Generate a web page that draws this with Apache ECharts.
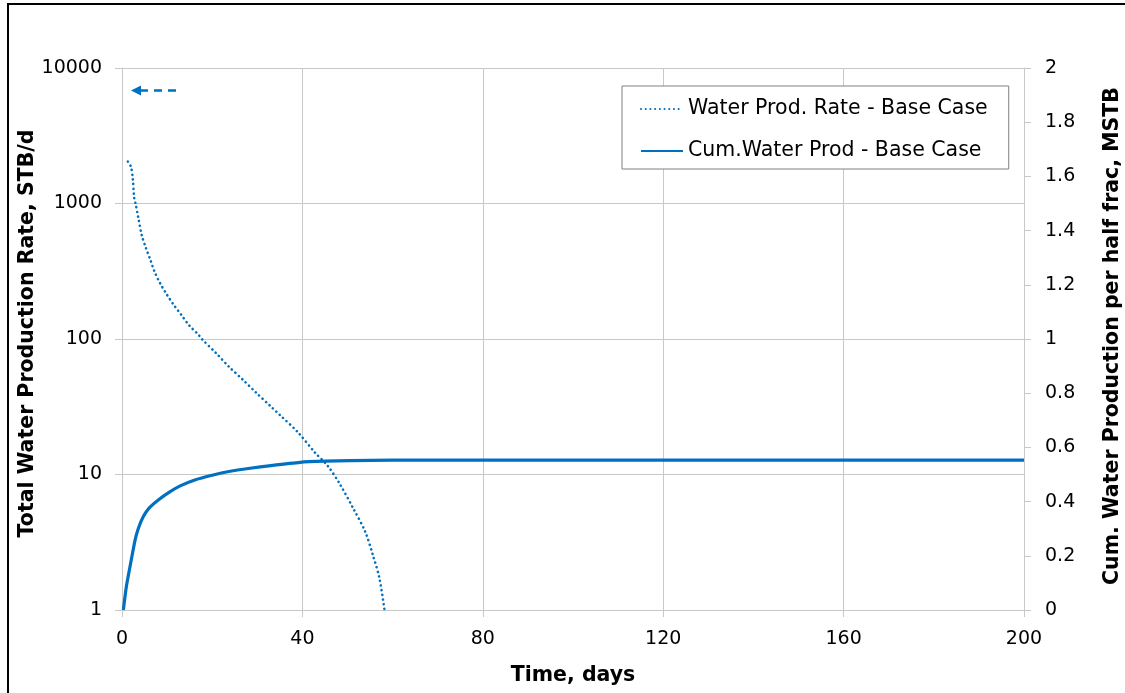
<!DOCTYPE html>
<html>
<head>
<meta charset="utf-8">
<script src="https://cdn.jsdelivr.net/npm/echarts@6/dist/echarts.min.js"></script>
<style>
html,body{margin:0;padding:0;background:#fff;overflow:hidden;}
#chart{width:1125px;height:693px;}
</style>
</head>
<body>
<div id="chart"></div>
<script>
// Time (days) and water production rate (STB/d) - left log axis
const rateDays = [1.3, 2.0, 2.4, 2.7, 3.0, 3.6, 4.4, 5.3, 6.3, 7.25, 8.5, 9.9, 11.5, 13.2, 14.9, 16.9, 17.7, 20.8, 23.7, 26.8, 29.8, 32.9, 35.0, 39.0, 42.8, 45.6, 48.3, 51.3, 53.9, 55.7, 57.1, 58.2];
const rateValues = [2040, 1860, 1510, 1100, 1000, 790, 580, 470, 383, 312, 256, 214, 178, 150, 126, 108, 100, 79, 62.5, 50, 40, 32, 27.5, 20.5, 14.5, 11.6, 8.5, 5.6, 3.8, 2.5, 1.7, 1.0];
// Cumulative water production (MSTB) - right axis
const cumDays = [0.3, 1.0, 2.0, 2.9, 3.6, 4.7, 6.0, 8.05, 10.5, 12.9, 16.0, 20.2, 24.0, 28.4, 33.0, 39.5, 45.0, 50.6, 60, 80, 100, 120, 140, 160, 180, 200];
const cumValues = [0, 0.09, 0.18, 0.258, 0.300, 0.344, 0.376, 0.406, 0.435, 0.458, 0.479, 0.498, 0.512, 0.523, 0.533, 0.545, 0.549, 0.551, 0.553, 0.553, 0.553, 0.553, 0.553, 0.553, 0.553, 0.553];
// Axis ticks
const xTicks = {min: 0, max: 200, interval: 40};
const leftTicks = {min: 1, max: 10000};
const rightTicks = {min: 0, max: 2, interval: 0.2};
const seriesNames = ['Water Prod. Rate - Base Case', 'Cum.Water Prod - Base Case'];

const blue = '#0070C0';
const gridColor = '#C8C8C8';
const font = 'DejaVu Sans';
const titleSize = 20.5;

const chart = echarts.init(document.getElementById('chart'), null, {renderer: 'canvas'});
const zip = (a, b) => a.map((v, i) => [v, b[i]]);

chart.setOption({
  animation: false,
  backgroundColor: '#fff',
  textStyle: {fontFamily: font},
  grid: {left: 122, right: 101, top: 68, bottom: 83, containLabel: false, outerBoundsMode: 'none'},
  legend: {
    orient: 'vertical',
    left: 622, top: 86,
    padding: [11, 21, 6, 18],
    itemGap: 18,
    itemWidth: 42, itemHeight: 14,
    backgroundColor: '#fff',
    borderColor: '#808080', borderWidth: 1,
    itemStyle: {opacity: 0},
    textStyle: {fontFamily: font, fontSize: titleSize, color: '#000', lineHeight: 24},
    data: seriesNames
  },
  xAxis: {
    type: 'value', min: xTicks.min, max: xTicks.max, interval: xTicks.interval,
    name: 'Time, days', nameLocation: 'middle', nameGap: 55, nameMoveOverlap: false,
    nameTextStyle: {fontFamily: font, fontSize: titleSize, fontWeight: 'bold', color: '#000'},
    axisLine: {show: true, lineStyle: {color: gridColor}},
    axisTick: {show: true, length: 7, lineStyle: {color: gridColor}},
    axisLabel: {fontFamily: font, fontSize: 19, color: '#000', margin: 20},
    splitLine: {show: true, lineStyle: {color: gridColor, width: 1}}
  },
  yAxis: [
    {
      type: 'log', logBase: 10, min: leftTicks.min, max: leftTicks.max,
      position: 'left',
      name: 'Total Water Production Rate, STB/d', nameLocation: 'middle', nameGap: 84, nameRotate: 90, nameMoveOverlap: false,
      nameTextStyle: {fontFamily: font, fontSize: titleSize, fontWeight: 'bold', color: '#000', padding: [0, 0, 0, 11]},
      axisLine: {show: true, lineStyle: {color: gridColor}},
      axisTick: {show: true, length: 7, lineStyle: {color: gridColor}},
      axisLabel: {fontFamily: font, fontSize: 19, color: '#000', margin: 20, formatter: v => String(Math.round(v))},
      splitLine: {show: true, lineStyle: {color: gridColor, width: 1}},
      minorTick: {show: false}
    },
    {
      type: 'value', min: rightTicks.min, max: rightTicks.max, interval: rightTicks.interval,
      position: 'right',
      name: 'Cum. Water Production per half frac, MSTB', nameLocation: 'middle', nameGap: 78, nameRotate: 90,
      nameTextStyle: {fontFamily: font, fontSize: titleSize, fontWeight: 'bold', color: '#000', padding: [0, 0, 0, 6]},
      axisLine: {show: true, lineStyle: {color: gridColor}},
      axisTick: {show: true, length: 7, lineStyle: {color: gridColor}},
      axisLabel: {fontFamily: font, fontSize: 19, color: '#000', margin: 21},
      splitLine: {show: false}
    }
  ],
  series: [
    {
      name: seriesNames[0], type: 'line', yAxisIndex: 0,
      data: zip(rateDays, rateValues),
      showSymbol: false, symbol: 'none', smooth: 0.3,
      lineStyle: {color: blue, width: 2.6, type: [0.1, 4.6], cap: 'round'},
      itemStyle: {color: blue}
    },
    {
      name: seriesNames[1], type: 'line', yAxisIndex: 1,
      data: zip(cumDays, cumValues),
      showSymbol: false, symbol: 'none', smooth: 0.2,
      lineStyle: {color: blue, width: 3.2},
      itemStyle: {color: blue}
    }
  ],
  graphic: [
    {type: 'rect', shape: {x: 8, y: 4, width: 1140, height: 720}, style: {fill: 'none', stroke: '#000', lineWidth: 2}, z: 100},
    // arrow pointing to left axis
    {type: 'line', shape: {x1: 140, y1: 90.5, x2: 179, y2: 90.5}, style: {stroke: blue, lineWidth: 2.5, lineDash: [8, 6]}, z: 100},
    {type: 'polygon', shape: {points: [[131, 90.5], [141, 85.5], [141, 95.5]]}, style: {fill: blue}, z: 100}
  ]
});
</script>
</body>
</html>
